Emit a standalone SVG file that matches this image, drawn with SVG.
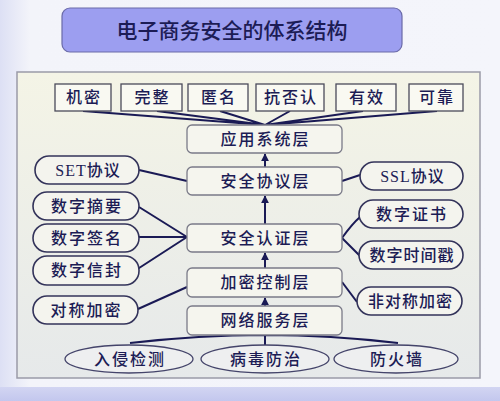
<svg xmlns="http://www.w3.org/2000/svg" width="500" height="401" viewBox="0 0 500 401">
<defs>
<linearGradient id="bg" x1="0" y1="0" x2="1" y2="0">
<stop offset="0" stop-color="#dde0f4"/><stop offset="0.06" stop-color="#f3f4fa"/><stop offset="1" stop-color="#f4f5fb"/>
</linearGradient>
<linearGradient id="panel" x1="0" y1="0" x2="0" y2="1">
<stop offset="0" stop-color="#f4f4e6"/><stop offset="1" stop-color="#e6e9ea"/>
</linearGradient>
<linearGradient id="band" x1="0" y1="0" x2="0" y2="1">
<stop offset="0" stop-color="#d2d5f2"/><stop offset="1" stop-color="#c3c7ee"/>
</linearGradient>
<marker id="ah" viewBox="0 0 10 10" refX="9" refY="5" markerWidth="4" markerHeight="4" orient="auto">
<path d="M0,0 L10,5 L0,10 z" fill="#1a1a55"/>
</marker>
<style>
.t{font-family:"Liberation Serif","Noto Sans CJK SC",serif;fill:#1c1c55;text-anchor:middle;dominant-baseline:central;font-weight:500}
.top{fill:#f9f9f2;stroke:#4a4a5a;stroke-width:1.3}
.layer{fill:#f5f5ee;stroke:#7a7a88;stroke-width:1.3}
.pill{fill:#f4f4ee;stroke:#33335a;stroke-width:1.6}
.ell{fill:#eeeff0;stroke:#44446a;stroke-width:1.3}
.c{stroke:#1a1a55;stroke-width:2;fill:none}
.s17{font-size:16px;letter-spacing:2px}
</style>
</defs>
<rect x="0" y="0" width="500" height="401" fill="url(#bg)"/>
<rect x="0" y="387" width="500" height="14" fill="url(#band)"/>
<g id="title">
<rect x="62" y="8" width="340" height="44" rx="8" fill="#9c9ef0" stroke="#6a6aa8" stroke-width="1.2"/>
<text class="t" x="232" y="31" style="font-size:21px">电子商务安全的体系结构</text>
</g>
<g id="panel">
<rect x="17" y="72" width="463" height="306" fill="url(#panel)" stroke="#9a9aa8" stroke-width="1.5"/>
</g>
<g id="connectors">
<path class="c" d="M83,111 L265,125 M157,111 L265,125 M220,111 L265,125 M290,111 L265,125 M363,111 L265,125 M437,111 L265,125"/>
<line class="c" x1="265" y1="167" x2="265" y2="154" marker-end="url(#ah)"/>
<line class="c" x1="265" y1="224" x2="265" y2="196" marker-end="url(#ah)"/>
<line class="c" x1="265" y1="268" x2="265" y2="253" marker-end="url(#ah)"/>
<line class="c" x1="265" y1="306" x2="265" y2="298" marker-end="url(#ah)"/>
<path class="c" d="M139,170 L187,181"/>
<path class="c" d="M139,207 L187,237 M139,237 L187,237 M136,270 L187,237"/>
<path class="c" d="M138,309 L187,287"/>
<path class="c" d="M342,181 L360,175"/>
<path class="c" d="M342,238 Q352,224 360,217 M342,238 Q352,248 360,256"/>
<path class="c" d="M342,282 L357,302"/>
<path class="c" d="M265,335 L265,346 M130,343 Q200,335 265,335 Q330,335 398,343"/>
</g>
<g id="n-jimi"><rect class="top" x="55" y="84" width="56" height="27"/><text class="t s17" x="84" y="97.5">机密</text></g>
<g id="n-wanzheng"><rect class="top" x="121" y="84" width="61" height="27"/><text class="t s17" x="152.5" y="97.5">完整</text></g>
<g id="n-niming"><rect class="top" x="188" y="84" width="60" height="27"/><text class="t s17" x="219" y="97.5">匿名</text></g>
<g id="n-kangfouren"><rect class="top" x="256" y="84" width="68" height="27"/><text class="t s17" x="291" y="97.5">抗否认</text></g>
<g id="n-youxiao"><rect class="top" x="336" y="84" width="60" height="27"/><text class="t s17" x="367" y="97.5">有效</text></g>
<g id="n-kekao"><rect class="top" x="409" y="84" width="54" height="27"/><text class="t s17" x="437" y="97.5">可靠</text></g>
<g id="n-app"><rect class="layer" x="187" y="125" width="155" height="28" rx="5"/><text class="t s17" x="265.5" y="139">应用系统层</text></g>
<g id="n-proto"><rect class="layer" x="187" y="167" width="155" height="28" rx="5"/><text class="t s17" x="265.5" y="181">安全协议层</text></g>
<g id="n-auth"><rect class="layer" x="187" y="224" width="155" height="28" rx="5"/><text class="t s17" x="265.5" y="238">安全认证层</text></g>
<g id="n-crypto"><rect class="layer" x="187" y="268" width="155" height="29" rx="5"/><text class="t s17" x="265.5" y="282.5">加密控制层</text></g>
<g id="n-net"><rect class="layer" x="187" y="306" width="155" height="29" rx="5"/><text class="t s17" x="265.5" y="320.5">网络服务层</text></g>
<g id="n-set"><rect class="pill" x="35" y="156" width="104" height="28" rx="14" stroke="#55556a" stroke-width="1.2"/><text class="t s17" x="88" y="170" style="letter-spacing:1px">SET协议</text></g>
<g id="n-digest"><rect class="pill" x="33" y="192" width="106" height="28" rx="14"/><text class="t s17" x="87" y="206">数字摘要</text></g>
<g id="n-sign"><rect class="pill" x="33" y="224" width="106" height="28" rx="14"/><text class="t s17" x="87" y="238">数字签名</text></g>
<g id="n-envelope"><rect class="pill" x="33" y="256" width="106" height="29" rx="14"/><text class="t s17" x="87" y="270.5">数字信封</text></g>
<g id="n-sym"><rect class="pill" x="33" y="296" width="105" height="28" rx="14" stroke="#55556a" stroke-width="1.2"/><text class="t s17" x="86.5" y="310">对称加密</text></g>
<g id="n-ssl"><rect class="pill" x="360" y="162" width="103" height="28" rx="14" stroke="#55556a" stroke-width="1.2"/><text class="t s17" x="412.5" y="176" style="letter-spacing:1px">SSL协议</text></g>
<g id="n-cert"><rect class="pill" x="359" y="200" width="104" height="28" rx="14"/><text class="t s17" x="412" y="214">数字证书</text></g>
<g id="n-ts"><rect class="pill" x="359" y="241" width="104" height="28" rx="14"/><text class="t s17" x="412" y="255" style="letter-spacing:1px">数字时间戳</text></g>
<g id="n-asym"><rect class="pill" x="357" y="287" width="105" height="28" rx="14" stroke="#55556a" stroke-width="1.2"/><text class="t s17" x="410.5" y="301" style="letter-spacing:1px">非对称加密</text></g>
<g id="n-ids"><ellipse class="ell" cx="129" cy="359" rx="64" ry="14"/><text class="t s17" x="130" y="359">入侵检测</text></g>
<g id="n-virus"><ellipse class="ell" cx="265" cy="359" rx="64" ry="14"/><text class="t s17" x="266" y="359">病毒防治</text></g>
<g id="n-fw"><ellipse class="ell" cx="396" cy="359" rx="62" ry="14"/><text class="t s17" x="397" y="359">防火墙</text></g>
</svg>
